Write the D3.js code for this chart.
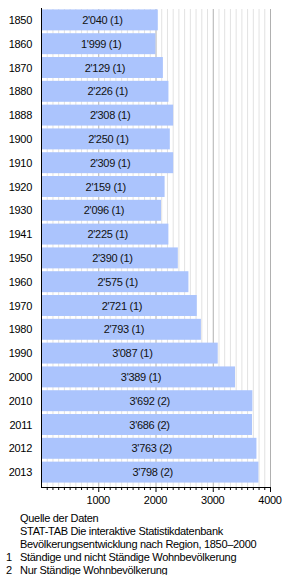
<!DOCTYPE html>
<html>
<head>
<meta charset="utf-8">
<script src="https://d3js.org/d3.v7.min.js"></script>
<style>
body { margin: 0; background: #fff; }
text { font-family: "Liberation Sans", Arial, sans-serif; letter-spacing: -0.3px; }
</style>
</head>
<body>
<svg width="290" height="575"></svg>
<script>
var years = ["1850","1860","1870","1880","1888","1900","1910","1920","1930","1941",
             "1950","1960","1970","1980","1990","2000","2010","2011","2012","2013"];
var population = [2040,1999,2129,2226,2308,2250,2309,2159,2096,2225,
                  2390,2575,2721,2793,3087,3389,3692,3686,3763,3798];
var notes = [1,1,1,1,1,1,1,1,1,1,1,1,1,1,1,1,2,2,2,2];
var xTicks = [1000, 2000, 3000, 4000];
var footer = ["Quelle der Daten",
              "STAT-TAB Die interaktive Statistikdatenbank",
              "Bevölkerungsentwicklung nach Region, 1850–2000"];
var noteLabels = ["Ständige und nicht Ständige Wohnbevölkerung",
                  "Nur Ständige Wohnbevölkerung"];

var svg = d3.select("svg");
var plotLeft = 41, plotRight = 270, plotTop = 8, plotBottom = 487;

var x = d3.scaleLinear().domain([0, 4000]).range([plotLeft, plotRight]);
var y = d3.scaleBand().domain(years).range([plotTop, 484])
    .paddingInner(0.12).paddingOuter(0.06);

// grid lines, every 100
var minor = d3.range(100, 4001, 100);
svg.append("g").selectAll("line")
  .data(minor)
  .join("line")
  .attr("x1", d => x(d) + 0.5).attr("x2", d => x(d) + 0.5)
  .attr("y1", plotTop + 1).attr("y2", plotBottom)
  .attr("stroke", d => d % 1000 == 0 ? "#b0b0b0" : "#e2e2e2")
  .attr("stroke-width", 1);

// bars
var fmt = function(v) {
  var s = String(v);
  return s.length > 3 ? s.slice(0, s.length - 3) + "'" + s.slice(-3) : s;
};
var rows = years.map((yr, i) => ({year: yr, value: population[i], note: notes[i]}));

svg.append("g").selectAll("rect")
  .data(rows)
  .join("rect")
  .attr("x", x(0))
  .attr("y", d => y(d.year))
  .attr("width", d => x(d.value) - x(0))
  .attr("height", y.bandwidth())
  .attr("fill", "#abc4fd");

svg.append("g").selectAll("text")
  .data(rows)
  .join("text")
  .attr("x", d => (x(0) + x(d.value)) / 2 + 3)
  .attr("y", d => y(d.year) + y.bandwidth() / 2 + 4)
  .attr("text-anchor", "middle")
  .attr("font-size", "11px")
  .attr("fill", "#111")
  .text(d => fmt(d.value) + " (" + d.note + ")");

// year labels
svg.append("g").selectAll("text")
  .data(rows)
  .join("text")
  .attr("x", 32)
  .attr("y", d => y(d.year) + y.bandwidth() / 2 + 4)
  .attr("text-anchor", "end")
  .attr("font-size", "11px")
  .attr("fill", "#000")
  .text(d => d.year);

// axes
svg.append("line")
  .attr("x1", plotLeft + 0.5).attr("x2", plotLeft + 0.5)
  .attr("y1", plotTop).attr("y2", plotBottom)
  .attr("stroke", "#000");

var xAxis = svg.append("g").attr("transform", "translate(0," + plotBottom + ")");
xAxis.append("line")
  .attr("x1", plotLeft).attr("x2", plotRight + 1)
  .attr("y1", 0.5).attr("y2", 0.5)
  .attr("stroke", "#000");
xAxis.selectAll("line.tick")
  .data(minor)
  .join("line")
  .attr("class", "tick")
  .attr("x1", d => x(d) + 0.5).attr("x2", d => x(d) + 0.5)
  .attr("y1", 0).attr("y2", d => d % 1000 == 0 ? 5 : 3)
  .attr("stroke", "#000");
xAxis.selectAll("text")
  .data(xTicks)
  .join("text")
  .attr("x", d => x(d))
  .attr("y", 17)
  .attr("text-anchor", "middle")
  .attr("font-size", "11px")
  .text(d => d);

// footer
svg.append("g").selectAll("text")
  .data(footer)
  .join("text")
  .attr("x", 20)
  .attr("y", (d, i) => 522 + i * 13)
  .attr("font-size", "11px")
  .text(d => d);

var nt = svg.append("g").selectAll("g")
  .data(noteLabels)
  .join("g")
  .attr("transform", (d, i) => "translate(0," + (561 + i * 13) + ")");
nt.append("text").attr("x", 6).attr("font-size", "11px").text((d, i) => i + 1);
nt.append("text").attr("x", 20).attr("font-size", "11px").text(d => d);
</script>
</body>
</html>
